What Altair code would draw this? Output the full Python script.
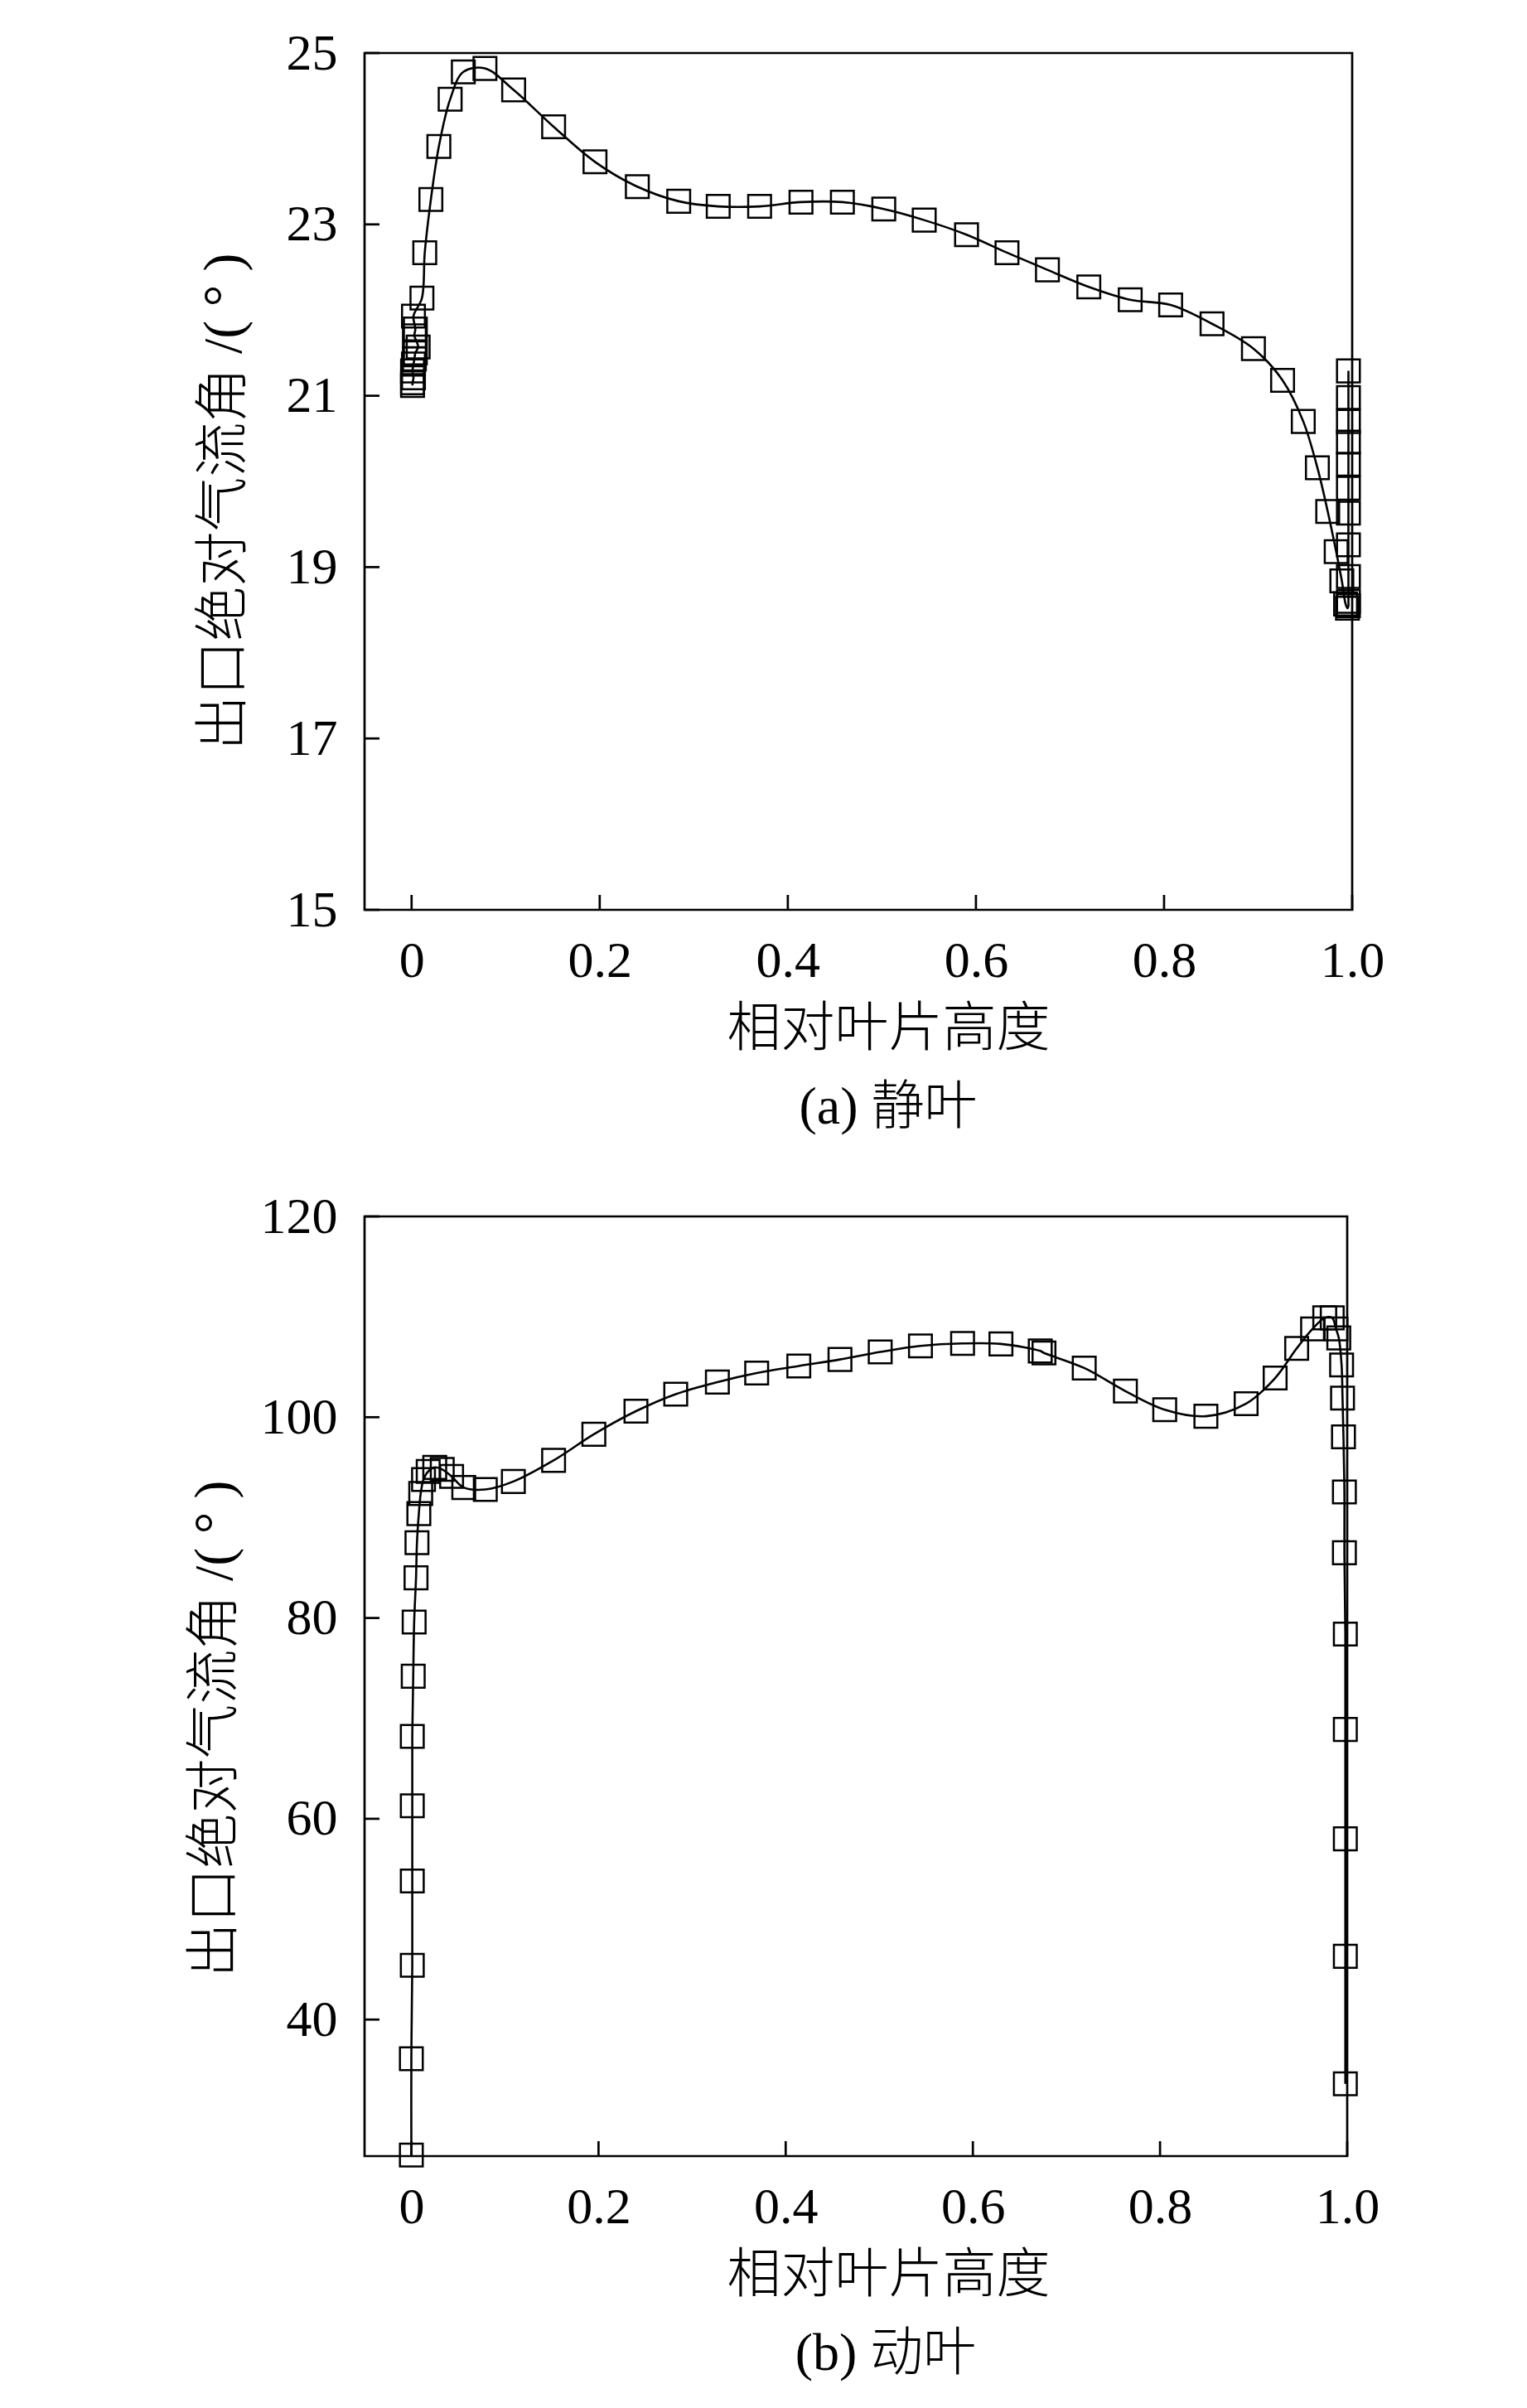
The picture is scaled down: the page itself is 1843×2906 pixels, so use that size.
import altair as alt
import pandas as pd

# ---------------- data ----------------
stator_x = [0.001, 0.001, 0.002, 0.001, 0.002, 0.003, 0.004, 0.007, 0.003, 0.004, 0.002,
            0.011, 0.014, 0.0205, 0.029, 0.041, 0.055, 0.078, 0.1085, 0.151, 0.195, 0.240,
            0.284, 0.326, 0.370, 0.414, 0.458, 0.502, 0.545, 0.590, 0.633, 0.676, 0.720,
            0.764, 0.807, 0.851, 0.895, 0.926, 0.948, 0.963, 0.974, 0.983, 0.989, 0.993,
            0.995, 0.996, 0.996, 0.996, 0.996, 0.996, 0.996, 0.996, 0.996, 0.996, 0.996, 0.996]
stator_y = [21.12, 21.15, 21.21, 21.29, 21.37, 21.43, 21.50, 21.57, 21.70, 21.78, 21.93,
            22.14, 22.67, 23.29, 23.91, 24.46, 24.78, 24.82, 24.57, 24.14, 23.73, 23.44,
            23.27, 23.21, 23.21, 23.26, 23.26, 23.18, 23.05, 22.88, 22.67, 22.47, 22.27,
            22.12, 22.06, 21.84, 21.55, 21.18, 20.70, 20.16, 19.65, 19.18, 18.84, 18.57,
            18.52, 18.55, 18.60, 18.89, 19.26, 19.63, 19.92, 20.20, 20.46, 20.70, 20.98, 21.29]

rotor_x = [0.000, 0.000, 0.001, 0.001, 0.001, 0.001, 0.002, 0.003, 0.005, 0.006, 0.008,
           0.010, 0.013, 0.018, 0.025, 0.033, 0.043, 0.056, 0.079, 0.109, 0.152, 0.195,
           0.240, 0.2825, 0.327, 0.369, 0.414, 0.458, 0.501, 0.544, 0.589, 0.630, 0.672,
           0.676, 0.719, 0.763, 0.805, 0.849, 0.892, 0.923, 0.946, 0.963, 0.976, 0.984,
           0.988, 0.991, 0.994, 0.995, 0.996, 0.997, 0.997, 0.998, 0.998, 0.998, 0.998, 0.998]
rotor_y = [26.5, 36.1, 45.4, 53.8, 61.3, 68.2, 74.2, 79.6, 84.0, 87.5, 90.4,
           92.4, 93.8, 94.6, 95.0, 94.8, 94.1, 93.0, 92.8, 93.6, 95.7, 98.3,
           100.6, 102.3, 103.5, 104.4, 105.1, 105.75, 106.5, 107.1, 107.35, 107.3, 106.6,
           106.4, 104.9, 102.6, 100.75, 100.1, 101.35, 103.9, 106.85, 108.8, 109.9, 109.9,
           108.8, 107.9, 105.2, 101.9, 98.05, 92.55, 86.5, 78.4, 68.9, 58.0, 46.3, 33.6]

x_ticks = [0, 0.2, 0.4, 0.6, 0.8, 1.0]
stator_y_ticks = [15, 17, 19, 21, 23, 25]
rotor_y_ticks = [40, 60, 80, 100, 120]

x_title = "相对叶片高度"
y_title = "出口绝对气流角 /( ° )"
captions = ["(a) 静叶", "(b) 动叶"]

SERIF = "Liberation Serif"
MIXED = "Liberation Serif, Noto Sans CJK SC"


def panel(xs, ys, yticks, ydomain, width, height, caption, title_x, title_y):
    df = pd.DataFrame({"x": xs, "y": ys, "i": list(range(len(xs)))})
    xsc = alt.Scale(domain=[-0.05, 1.0], nice=False, zero=False)
    ysc = alt.Scale(domain=ydomain, nice=False, zero=False)
    xax = alt.Axis(values=x_ticks,
                   labelExpr="datum.value == 0 ? '0' : format(datum.value, '.1f')",
                   ticks=False, tickSize=0, domain=False, grid=False,
                   labelFont=SERIF, labelFontSize=62, labelPadding=31, labelColor="black",
                   labelFlush=False, labelOverlap=False,
                   titleFont=MIXED, titleFontSize=65, titleFontWeight=300,
                   titlePadding=20, titleColor="black", titleX=632)
    yax = alt.Axis(values=yticks, format="d",
                   ticks=False, tickSize=0, domain=False, grid=False,
                   labelFont=SERIF, labelFontSize=62, labelPadding=33, labelColor="black",
                   labelFlush=False, labelOverlap=False,
                   titleFont=MIXED, titleFontSize=66, titleFontWeight=300,
                   titleColor="black", titleX=title_x, titleY=title_y,
                   titleBaseline="middle")
    base = alt.Chart(df)
    line = base.mark_line(color="black", strokeWidth=2.6, interpolate="catmull-rom").encode(
        x=alt.X("x:Q", scale=xsc, axis=xax, title=x_title),
        y=alt.Y("y:Q", scale=ysc, axis=yax, title=y_title),
        order="i:Q",
    )
    pts = base.mark_point(shape="square", filled=False, size=760, strokeWidth=2.5,
                          color="black", opacity=1).encode(
        x=alt.X("x:Q", title=x_title),
        y=alt.Y("y:Q", title=y_title),
    )
    yt = alt.Chart(pd.DataFrame({"v": yticks})).mark_rule(color="black", strokeWidth=2.7).encode(
        y=alt.Y("v:Q", title=y_title), x=alt.value(0), x2=alt.value(18))
    xt = alt.Chart(pd.DataFrame({"v": x_ticks})).mark_rule(color="black", strokeWidth=2.7).encode(
        x=alt.X("v:Q", title=x_title), y=alt.value(height), y2=alt.value(height - 18))
    return alt.layer(line, pts, yt, xt).properties(
        width=width, height=height,
        title=alt.TitleParams(caption, orient="bottom", anchor="middle", offset=31, dx=36,
                              font=MIXED, fontSize=64, fontWeight=300, color="black"),
    )


top = panel(stator_x, stator_y, stator_y_ticks, [15, 25], 1192, 1034, captions[0], -170, 541)
bottom = panel(rotor_x, rotor_y, rotor_y_ticks, [26.4, 120], 1186, 1134, captions[1], -181, 618)

chart = alt.vconcat(top, bottom, spacing=64).properties(
    padding={"left": 216, "top": 23, "right": 10, "bottom": 10},
    background="white",
).configure_view(stroke="black", strokeWidth=2.7)

chart.save("out.html", embed_options={"renderer": "svg", "actions": False})
